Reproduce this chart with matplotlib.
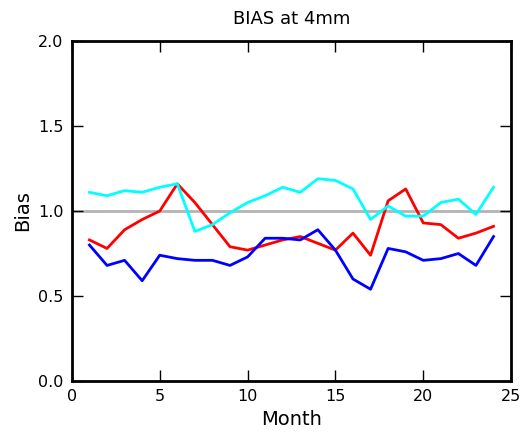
import numpy as np
import matplotlib
matplotlib.use('Agg')
import matplotlib.pyplot as plt

# monthly bias values
months = np.arange(1, 25)
bias_red = [0.83, 0.78, 0.89, 0.95, 1.00, 1.16, 1.05, 0.92, 0.79, 0.77, 0.80, 0.83,
            0.85, 0.81, 0.77, 0.87, 0.74, 1.06, 1.13, 0.93, 0.92, 0.84, 0.87, 0.91]
bias_blue = [0.80, 0.68, 0.71, 0.59, 0.74, 0.72, 0.71, 0.71, 0.68, 0.73, 0.84, 0.84,
             0.83, 0.89, 0.77, 0.60, 0.54, 0.78, 0.76, 0.71, 0.72, 0.75, 0.68, 0.85]
bias_cyan = [1.11, 1.09, 1.12, 1.11, 1.14, 1.16, 0.88, 0.92, 0.99, 1.05, 1.09, 1.14,
             1.11, 1.19, 1.18, 1.13, 0.95, 1.03, 0.97, 0.97, 1.05, 1.07, 0.98, 1.14]

fig = plt.figure(figsize=(5.21, 4.32), dpi=100)
ax = fig.add_axes([0.138, 0.118, 0.843, 0.787])

ax.axhline(1.0, color='#b3b3b3', lw=2, zorder=1)
ax.plot(months, bias_red, color='red', lw=2)
ax.plot(months, bias_blue, color='blue', lw=2)
ax.plot(months, bias_cyan, color='cyan', lw=2)

ax.set_xlim(0, 25)
ax.set_ylim(0, 2)
ax.set_xticks([0, 5, 10, 15, 20, 25])
ax.set_yticks([0.0, 0.5, 1.0, 1.5, 2.0])
ax.set_yticklabels(['0.0', '0.5', '1.0', '1.5', '2.0'])
ax.tick_params(direction='in', length=8, width=1, top=True, right=True,
               labelsize=11.5, pad=6)
for s in ax.spines.values():
    s.set_linewidth(2)

ax.set_title('BIAS at 4mm', fontsize=13, pad=12)
ax.set_xlabel('Month', fontsize=14)
ax.set_ylabel('Bias', fontsize=14)

fig.savefig('out.png', dpi=100)
